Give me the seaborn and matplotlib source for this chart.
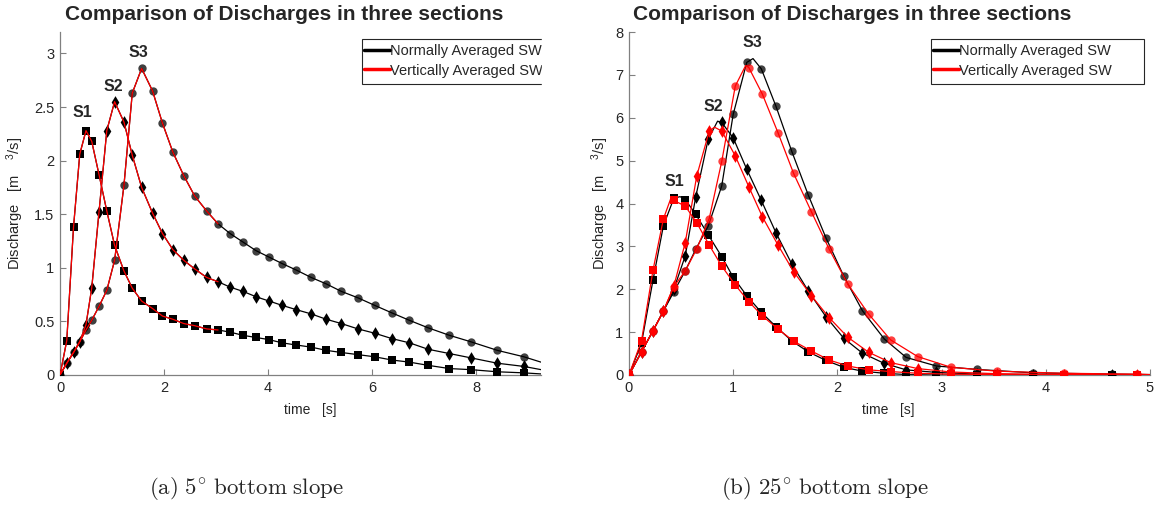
import pandas as pd
import matplotlib
matplotlib.use('Agg')
import matplotlib.pyplot as plt
from matplotlib.patches import Rectangle
import seaborn as sns

# (a) 5 deg bottom slope - marker times [s] and discharges [m3/s]
t_a = [0, 0.13, 0.26, 0.38, 0.50, 0.61, 0.75, 0.90, 1.05, 1.23, 1.39, 1.57, 1.78,
       1.97, 2.17, 2.38, 2.59, 2.82, 3.04, 3.27, 3.52, 3.77, 4.02, 4.27, 4.54,
       4.83, 5.12, 5.41, 5.73, 6.05, 6.38, 6.72, 7.08, 7.49, 7.90, 8.41, 8.92]
s1_a = [0, 0.32, 1.38, 2.06, 2.28, 2.18, 1.87, 1.53, 1.21, 0.97, 0.81, 0.69, 0.62,
        0.55, 0.52, 0.48, 0.46, 0.43, 0.42, 0.40, 0.37, 0.35, 0.33, 0.30, 0.28,
        0.26, 0.23, 0.21, 0.19, 0.17, 0.14, 0.12, 0.09, 0.06, 0.05, 0.03, 0.02]
s2_a = [0, 0.11, 0.21, 0.31, 0.47, 0.81, 1.52, 2.28, 2.55, 2.36, 2.05, 1.75, 1.51,
        1.32, 1.17, 1.07, 0.99, 0.91, 0.87, 0.82, 0.78, 0.73, 0.69, 0.65, 0.61,
        0.57, 0.52, 0.48, 0.43, 0.39, 0.34, 0.30, 0.24, 0.20, 0.16, 0.11, 0.08]
s3_a = [0, 0.11, 0.21, 0.31, 0.42, 0.51, 0.64, 0.79, 1.07, 1.77, 2.63, 2.86, 2.65,
        2.35, 2.08, 1.86, 1.67, 1.53, 1.41, 1.32, 1.24, 1.16, 1.10, 1.04, 0.98,
        0.91, 0.85, 0.78, 0.72, 0.65, 0.58, 0.51, 0.44, 0.37, 0.31, 0.23, 0.17]
edge_t_a = 9.25
edge_a = [0.01, 0.05, 0.12]
red_end_a = 3.04

# (b) 25 deg bottom slope
t_b_nor = [0, 0.12, 0.23, 0.33, 0.43, 0.54, 0.64, 0.76, 0.89, 1.00, 1.13, 1.27,
           1.41, 1.56, 1.72, 1.89, 2.06, 2.24, 2.45, 2.66, 2.95, 3.34, 3.88, 4.64]
t_b_ver = [0, 0.12, 0.23, 0.33, 0.43, 0.54, 0.65, 0.77, 0.89, 1.02, 1.15, 1.28,
           1.43, 1.58, 1.75, 1.92, 2.10, 2.30, 2.51, 2.77, 3.09, 3.53, 4.17, 4.88]
s1_b_nor = [0, 0.74, 2.21, 3.48, 4.12, 4.09, 3.75, 3.27, 2.76, 2.28, 1.85, 1.46,
            1.13, 0.80, 0.54, 0.34, 0.18, 0.09, 0.04, 0.01, 0.0, 0.0, 0.0, 0.0]
s1_b_ver = [0, 0.80, 2.44, 3.64, 4.07, 3.94, 3.55, 3.03, 2.54, 2.10, 1.71, 1.38,
            1.07, 0.79, 0.56, 0.35, 0.21, 0.12, 0.08, 0.04, 0.02, 0.01, 0.0, 0.0]
s2_b_nor = [0, 0.54, 1.03, 1.49, 2.00, 2.78, 4.15, 5.50, 5.89, 5.53, 4.80, 4.07,
            3.32, 2.60, 1.96, 1.36, 0.86, 0.51, 0.27, 0.12, 0.06, 0.02, 0.01, 0.0]
s2_b_ver = [0, 0.54, 1.03, 1.49, 2.07, 3.09, 4.64, 5.69, 5.69, 5.11, 4.39, 3.69,
            3.03, 2.41, 1.85, 1.34, 0.88, 0.53, 0.29, 0.15, 0.07, 0.03, 0.01, 0.0]
s3_b_nor = [0, 0.54, 1.03, 1.49, 1.94, 2.43, 2.93, 3.47, 4.41, 6.08, 7.29, 7.14,
            6.27, 5.23, 4.20, 3.20, 2.31, 1.50, 0.84, 0.41, 0.21, 0.13, 0.05, 0.02]
s3_b_ver = [0, 0.54, 1.03, 1.49, 2.06, 2.43, 2.94, 3.65, 4.98, 6.74, 7.17, 6.55,
            5.65, 4.70, 3.81, 2.94, 2.12, 1.42, 0.82, 0.43, 0.18, 0.09, 0.04, 0.02]
# peaks of the solid curves (between markers) and values at t = 5 s
peak_t_b_nor = [0.49, 0.85, 1.19]
peak_b_nor = [4.16, 5.92, 7.38]
peak_t_b_ver = [0.40, 0.82, 1.12]
peak_b_ver = [4.11, 5.78, 7.22]
edge_t_b = 5.0
edge_b_nor = [0.0, 0.0, 0.01]
edge_b_ver = [0.0, 0.0, 0.01]

legend_labels = ['Normally Averaged SW', 'Vertically Averaged SW']
section_labels = ['S1', 'S2', 'S3']
title = 'Comparison of Discharges in three sections'

W, H = 1163, 505
BLACK = '#000000'
RED = '#ff0000'
markers = ['s', 'd', 'o']
msize = [26, 42, 36]
malpha = [1.0, 1.0, 0.75]


def fx(px):
    return px / W


def fy(py):
    return 1 - py / H


def curve(t, q, extra_t=(), extra_q=(), t_max=None):
    df = pd.DataFrame({'t': list(t) + list(extra_t), 'q': list(q) + list(extra_q)})
    if t_max is not None:
        df = df[df['t'] <= t_max]
    return df.sort_values('t')


def draw(ax, t, q, color, k, extra_t=(), extra_q=(), t_max=None, with_markers=True, z=2):
    line = curve(t, q, extra_t, extra_q, t_max)
    sns.lineplot(data=line, x='t', y='q', color=color, lw=0.9, estimator=None,
                 sort=True, ax=ax, zorder=z)
    if with_markers:
        sns.scatterplot(x=t, y=q, marker=markers[k], color=color, s=msize[k],
                        alpha=malpha[k], linewidth=0, ax=ax, zorder=z + 1)


def style_axes(ax):
    sns.despine(ax=ax)
    for sp in ['left', 'bottom']:
        ax.spines[sp].set_color('#808080')
        ax.spines[sp].set_linewidth(0.9)
    ax.tick_params(direction='in', length=4, width=0.8, color='#808080',
                   labelcolor='#262626', labelsize=10.5, pad=4)
    ax.set_xlabel('time   [s]', fontsize=10, color='#262626')
    ax.set_ylabel('Discharge   [m    $^{3}$/s]', fontsize=10.5, color='#262626')
    ax.yaxis.label.set_math_fontfamily('custom')


def add_legend(ax, px_left):
    handles = [plt.Line2D([], [], color=BLACK, lw=2.5),
               plt.Line2D([], [], color=RED, lw=2.5)]
    leg = ax.legend(handles, legend_labels, loc='upper left',
                    bbox_to_anchor=(fx(px_left + 2), fy(44)), bbox_transform=fig.transFigure,
                    borderaxespad=0, fontsize=10.5, handlelength=1.75, handletextpad=0.0,
                    labelspacing=0.38, borderpad=0, frameon=False)
    leg.set_zorder(10)
    fig.patches.append(Rectangle((fx(px_left), fy(84)), 213 / W, 45 / H,
                                 transform=fig.transFigure, fill=False,
                                 edgecolor='#262626', lw=0.8, zorder=15))


sns.set_style('ticks')
plt.rcParams['font.family'] = ['Liberation Sans', 'DejaVu Sans']
plt.rcParams['mathtext.fontset'] = 'custom'
plt.rcParams['mathtext.rm'] = 'Liberation Sans'
plt.rcParams['mathtext.it'] = 'Liberation Sans'

fig = plt.figure(figsize=(W / 100, H / 100), dpi=100)
axA = fig.add_axes([fx(60), fy(375), 481 / W, 343 / H])
axB = fig.add_axes([fx(629), fy(375), 521 / W, 343 / H])

# ----- panel (a)
series_a = [s1_a, s2_a, s3_a]
for k, q in enumerate(series_a):
    draw(axA, t_a, q, BLACK, k, [edge_t_a], [edge_a[k]], z=2)
for k, q in enumerate(series_a):
    draw(axA, t_a, q, RED, k, t_max=red_end_a, with_markers=False, z=5)
axA.set_xlim(0, 9.25)
axA.set_ylim(0, 3.2)
axA.set_xticks([0, 2, 4, 6, 8])
axA.set_yticks([0, 0.5, 1, 1.5, 2, 2.5, 3])
axA.set_yticklabels(['0', '0.5', '1', '1.5', '2', '2.5', '3'])
style_axes(axA)
axA.xaxis.set_label_coords(0.52, -0.082)
axA.yaxis.set_label_coords(-0.071, 0.5)
for lab, (x, y) in zip(section_labels, [(0.44, 2.45), (1.02, 2.69), (1.5, 3.01)]):
    axA.text(x, y, lab, fontsize=11.5, fontweight='bold', ha='center', va='center')

# ----- panel (b)
nor_b = [s1_b_nor, s2_b_nor, s3_b_nor]
ver_b = [s1_b_ver, s2_b_ver, s3_b_ver]
for k, q in enumerate(nor_b):
    draw(axB, t_b_nor, q, BLACK, k, [peak_t_b_nor[k], edge_t_b],
         [peak_b_nor[k], edge_b_nor[k]], z=2)
for k, q in enumerate(ver_b):
    draw(axB, t_b_ver, q, RED, k, [peak_t_b_ver[k], edge_t_b],
         [peak_b_ver[k], edge_b_ver[k]], z=5)
axB.set_xlim(0, 5)
axB.set_ylim(0, 8)
axB.set_xticks(range(6))
axB.set_yticks(range(9))
style_axes(axB)
axB.xaxis.set_label_coords(0.497, -0.082)
axB.yaxis.set_label_coords(-0.035, 0.5)
for lab, (x, y) in zip(section_labels, [(0.44, 4.51), (0.81, 6.27), (1.18, 7.75)]):
    axB.text(x, y, lab, fontsize=11.5, fontweight='bold', ha='center', va='center')

add_legend(axA, 362)
add_legend(axB, 931)

# the left panel is cropped at its right edge
fig.patches.append(Rectangle((fx(542), fy(95)), 60 / W, 62 / H,
                             transform=fig.transFigure, color='white', zorder=20))

fig.text(fx(284), fy(15), title, fontsize=15, fontweight='bold', ha='center', va='center')
fig.text(fx(852), fy(15), title, fontsize=15, fontweight='bold', ha='center', va='center')

fig.text(fx(246), fy(489), r'$\mathrm{(a)\ 5^{\circ}\ bottom\ slope}$',
         fontsize=16.5, ha='center', va='center', math_fontfamily='cm')
fig.text(fx(825), fy(489), r'$\mathrm{(b)\ 25^{\circ}\ bottom\ slope}$',
         fontsize=16.5, ha='center', va='center', math_fontfamily='cm')

fig.savefig('out.png', dpi=100)
